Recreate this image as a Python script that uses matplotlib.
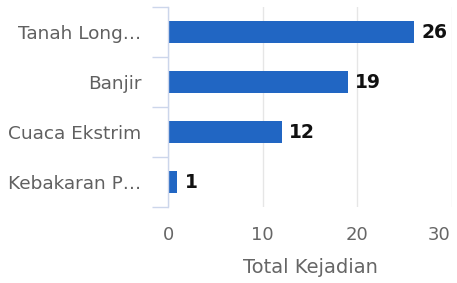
import matplotlib
matplotlib.use("Agg")
import matplotlib.pyplot as plt
import matplotlib.transforms as mtransforms
from matplotlib.ticker import FixedLocator

categories = ["Tanah Long…", "Banjir", "Cuaca Ekstrim", "Kebakaran P…"]
values = [26, 19, 12, 1]
xticks = [0, 10, 20, 30]
xlabel = "Total Kejadian"

plt.rcParams['font.family'] = ['DejaVu Sans']

W, H = 457, 283
fig = plt.figure(figsize=(W / 100, H / 100), dpi=100)
ax = fig.add_axes([168 / W, 1 - 207 / H, (452 - 168) / W, 200 / H])

n = len(categories)
ypos = list(range(n))
ax.barh(ypos, values, height=0.44, color="#2166c3", zorder=3)
ax.set_ylim(n - 0.5, -0.5)
ax.set_xlim(0, 30)

for y, v in zip(ypos, values):
    ax.annotate(str(v), (v, y), xytext=(7, 0), textcoords="offset pixels",
                ha="left", va="center", fontsize=13.5, fontweight="bold",
                color="#111111")

ax.set_yticks(ypos)
ax.set_yticklabels(categories, fontsize=13.3, color="#606060")
ax.tick_params(axis="y", which="major", length=0, pad=19)
ax.yaxis.set_minor_locator(FixedLocator([i - 0.5 for i in range(n + 1)]))
ax.tick_params(axis="y", which="minor", length=11.5, width=1, color="#ccd6eb")

ax.set_xticks(xticks)
ax.set_xticklabels([str(t) for t in xticks], fontsize=13, color="#666666")
ax.tick_params(axis="x", length=0, pad=13.5)
lbls = ax.get_xticklabels()
lbls[-1].set_horizontalalignment("right")
lbls[-1].set_transform(lbls[-1].get_transform() +
                       mtransforms.ScaledTranslation(-2 / 100, 0, fig.dpi_scale_trans))
ax.grid(axis="x", color="#e6e6e6", linewidth=1, zorder=0)
ax.set_xlabel(xlabel, fontsize=14, color="#666666", labelpad=10.5)

for s in ["top", "right", "bottom"]:
    ax.spines[s].set_visible(False)
ax.spines["left"].set_color("#ccd6eb")
ax.spines["left"].set_linewidth(1)
ax.spines["left"].set_zorder(4)

fig.savefig("out.png", dpi=100)
